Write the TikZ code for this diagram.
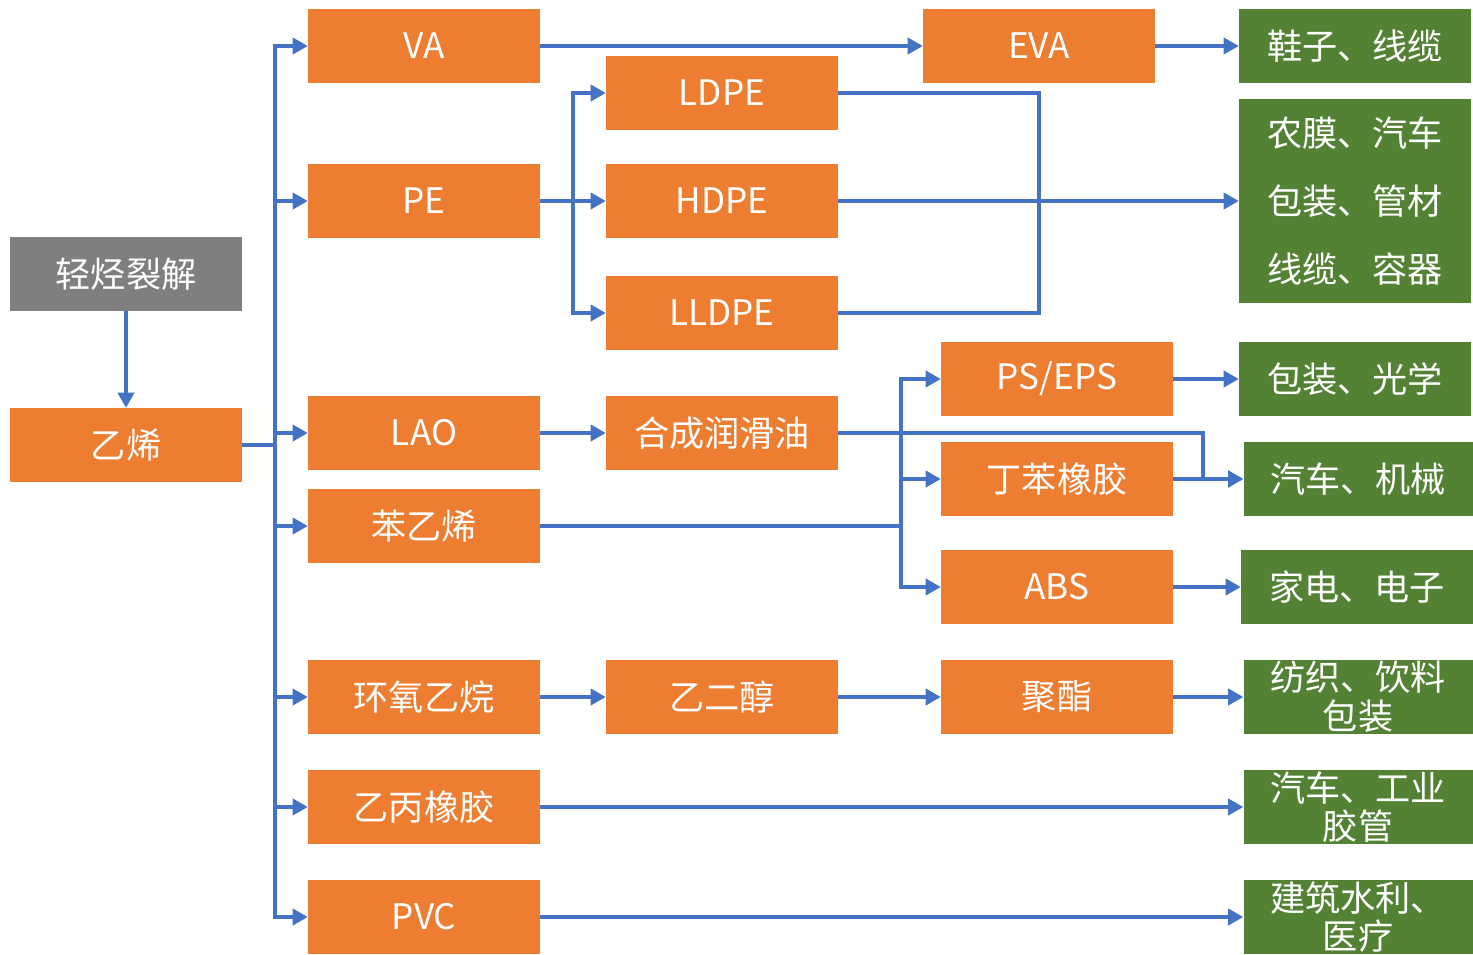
\documentclass[tikz,border=0pt]{standalone}
\usepackage{fontspec}
\setmainfont{Noto Sans CJK SC}
\usetikzlibrary{arrows.meta, calc}
\definecolor{orgbox}{HTML}{ED7D31}
\definecolor{grnbox}{HTML}{548235}
\definecolor{grybox}{HTML}{7F7F7F}
\definecolor{lnblue}{HTML}{4472C4}
\begin{document}
\begin{tikzpicture}[x=0.03cm, y=-0.03cm, font=\fontsize{30}{33}\selectfont,
    >={Triangle[length=13pt,width=14pt]},
    b/.style={rectangle, inner sep=0pt, text=white, align=center, minimum width=6.96cm, minimum height=2.22cm},
    ob/.style={b, fill=orgbox},
    gb/.style={b, fill=grnbox},
    ln/.style={draw=lnblue, line width=2.7pt}]
\useasboundingbox (0,0) rectangle (1473,955);
% source and ethylene
\node[b, fill=grybox] (crack) at (126,274) {轻烃裂解};
\node[ob] (eth) at (126,445) {乙烯};
% second column
\node[ob] (va)  at (424,46)  {VA};
\node[ob] (pe)  at (424,201) {PE};
\node[ob] (lao) at (424,433) {LAO};
\node[ob] (sty) at (424,526) {苯乙烯};
\node[ob] (eo)  at (424,697) {环氧乙烷};
\node[ob] (epr) at (424,807) {乙丙橡胶};
\node[ob] (pvc) at (424,917) {PVC};
% third column
\node[ob] (ldpe)  at (722,93)  {LDPE};
\node[ob] (hdpe)  at (722,201) {HDPE};
\node[ob] (lldpe) at (722,313) {LLDPE};
\node[ob] (lub)   at (722,433) {合成润滑油};
\node[ob] (meg)   at (722,697) {乙二醇};
% fourth column
\node[ob] (eva) at (1039,46)  {EVA};
\node[ob] (ps)  at (1057,379) {PS/EPS};
\node[ob] (sbr) at (1057,479) {丁苯橡胶};
\node[ob] (abs) at (1057,587) {ABS};
\node[ob] (pet) at (1057,697) {聚酯};
% applications
\node[gb] (shoe)  at (1355,46)  {鞋子、线缆};
\node[gb, minimum height=6.12cm, font=\fontsize{30}{58}\selectfont] (film) at (1355,201) {农膜、汽车\\包装、管材\\线缆、容器};
\node[gb] (opt)   at (1355,379) {包装、光学};
\node[gb, minimum width=6.87cm] (auto)  at (1358,479) {汽车、机械};
\node[gb] (appl)  at (1357,587) {家电、电子};
\node[gb, minimum width=6.87cm] (textl) at (1358,697) {纺织、饮料\\包装};
\node[gb, minimum width=6.87cm] (hose)  at (1358,807) {汽车、工业\\胶管};
\node[gb, minimum width=6.87cm] (build) at (1358,917) {建筑水利、\\医疗};
% junctions
\coordinate (tr)  at (275,445);
\coordinate (sp1) at (573,201);
\coordinate (mg)  at (1039,201);
\coordinate (sp2) at (901,526);
\coordinate (jn)  at (1203,479);
% connectors
\draw[ln,->] (crack) -- (eth);
\draw[ln] (eth.east) -- (tr);
\foreach \t in {va,pe,lao,sty,eo,epr,pvc}
  \draw[ln,->] (tr) |- (\t.west);
\draw[ln,->] (va) -- (eva);
\draw[ln,->] (eva) -- (shoe);
\draw[ln] (pe) -- (sp1);
\foreach \t in {ldpe,hdpe,lldpe}
  \draw[ln,->] (sp1) |- (\t.west);
\draw[ln] (ldpe.east) -| (mg);
\draw[ln] (lldpe.east) -| (mg);
\draw[ln,->] (hdpe) -- (film);
\draw[ln,->] (lao) -- (lub);
\draw[ln,->] (lub.east) -| (jn) -- (auto.west);
\draw[ln] (sty) -- (sp2);
\foreach \t in {ps,sbr,abs}
  \draw[ln,->] (sp2) |- (\t.west);
\draw[ln,->] (ps) -- (opt);
\draw[ln,->] (sbr) -- (auto);
\draw[ln,->] (abs) -- (appl);
\draw[ln,->] (eo) -- (meg);
\draw[ln,->] (meg) -- (pet);
\draw[ln,->] (pet) -- (textl);
\draw[ln,->] (epr) -- (hose);
\draw[ln,->] (pvc) -- (build);
\end{tikzpicture}
\end{document}
